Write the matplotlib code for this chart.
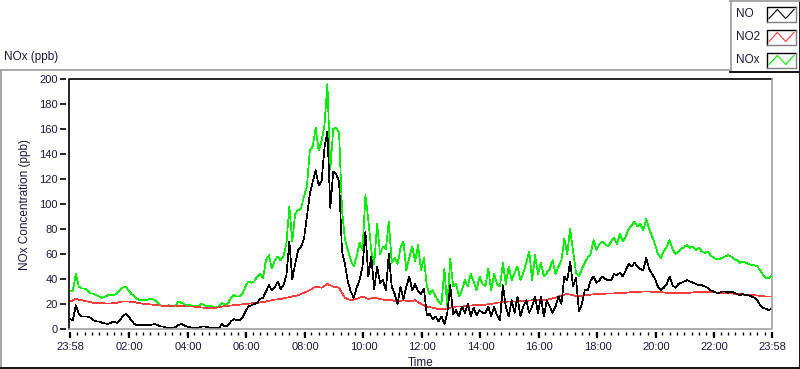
import numpy as np
import matplotlib
matplotlib.use("Agg")
import matplotlib.pyplot as plt

plt.rcParams['font.family'] = ['Liberation Sans', 'DejaVu Sans']

# ---------------- data (minutes after 23:58) ----------------
step_no = 6      # NO / NOx sampling step (min)
step_no2 = 12    # NO2 sampling step (min)

no_vals = [
    8, 7, 19, 12, 10, 10, 10, 9, 7, 6,
    6, 5, 4.5, 4, 5, 6, 5, 7, 10, 12,
    10, 7, 4, 3, 3, 3, 3, 3, 3.5, 4,
    3, 2, 2, 1, 1, 1, 1.5, 3, 4, 3,
    2, 1.5, 1, 1, 1, 2, 2, 1.5, 1, 1,
    1, 1, 4, 2, 3, 6, 8, 7, 7, 9,
    14, 18, 19, 20, 21, 24, 25, 30, 35, 31,
    33, 38, 32, 35, 43, 70, 40, 52, 63, 66,
    72, 90, 108, 118, 127, 115, 118, 145, 158, 97,
    126, 124, 118, 62, 52, 38, 30, 25, 33, 39,
    50, 78, 42, 58, 32, 50, 37, 39, 31, 60,
    34, 28, 20, 34, 24, 34, 42, 31, 36, 30,
    28, 32, 11, 12, 8, 10, 6, 10, 4, 13,
    35, 12, 15, 10, 18, 13, 20, 10, 17, 11,
    15, 13, 13, 18, 10, 18, 11, 7, 35, 18,
    10, 23, 13, 26, 10, 18, 23, 13, 18, 26,
    13, 26, 10, 23, 18, 13, 18, 26, 20, 42,
    39, 54, 34, 41, 14, 20, 31, 31, 39, 42,
    37, 39, 42, 40, 39, 39, 44, 43, 45, 42,
    47, 52, 50, 53, 50, 48, 47, 57, 48, 44,
    40, 34, 31, 33, 36, 42, 35, 33, 36, 37,
    38, 39, 38, 37, 36, 35, 35, 34, 33, 31,
    30, 29, 29, 30, 30, 29, 30, 29, 28, 27,
    28, 27, 27, 26, 25, 23, 19, 17, 16, 15, 17,
]

nox_vals = [
    30, 31, 44, 34, 32.5, 32.5, 31, 28.5, 28.5, 27,
    26, 25, 26, 27, 27, 27, 28.5, 31, 33, 34,
    31, 28, 26, 24, 23, 23, 23, 24, 24, 23,
    21, 19, 18, 18.5, 19, 18.5, 18, 22, 21, 20,
    19, 19, 18.5, 18.5, 18.5, 20, 19, 18, 18.5, 17.5,
    17, 18.5, 21, 19, 20.5, 24.5, 27, 26, 26, 28.5,
    34, 38, 37, 38, 42, 44.5, 40.5, 55, 59, 48.5,
    55, 58, 55, 58, 68.5, 98, 70, 92.5, 95, 96.5,
    106, 114, 143, 146, 161, 143, 150, 163, 196, 128,
    160, 161, 157, 95, 72, 63, 55, 50, 58, 69,
    63, 107, 87, 63, 52, 84, 60, 66, 64, 86,
    53, 57, 52, 65, 70, 47, 57, 66, 54, 67,
    47, 57, 34, 28, 31, 26, 22, 20, 48, 18,
    56, 34, 36, 26, 31, 39, 34, 44, 38, 31,
    42, 36, 34, 48, 31, 44, 36, 34, 53, 36,
    50, 39, 45, 50, 39, 45, 53, 62, 39, 59,
    44, 53, 42, 45, 48, 55, 44, 50, 55, 72,
    60, 80, 62, 45, 42, 48, 53, 57, 60, 71,
    63, 68, 70, 68, 66, 70, 73, 68, 76, 70,
    74, 80, 83, 86, 82, 84, 79, 88, 80, 74,
    68, 60, 57, 62, 66, 71, 64, 60, 62, 64,
    66, 67, 65, 66, 63, 65, 62, 61, 62, 59,
    57, 56, 56, 57, 58, 59, 58, 56, 55, 53,
    54, 53, 52, 51, 51, 50, 47, 43, 41, 41, 43,
]

no2_vals = [
    22, 24, 23, 22, 21, 21, 20.5, 20.5, 21, 22,
    22, 21.5, 20.5, 20, 19.5, 19, 18.5, 18.5, 18.7, 18.5,
    18, 18, 17.5, 17, 16.5, 17, 18, 18.5, 19, 19.5,
    20, 20.5, 21, 21.5, 22.5, 23.5, 24, 25, 26, 27,
    29, 31, 34, 33, 36, 34, 33, 25, 23, 24,
    26, 24, 25, 24, 23, 23, 22, 23, 22, 23,
    20, 18, 17, 16, 16, 17, 18, 18, 18.5, 19,
    19, 19.5, 20, 21, 21.5, 22, 22, 22.5, 22.5, 23,
    23, 23, 24, 25, 27, 28, 27, 26, 27, 27.5,
    28, 28, 28.5, 28.5, 29, 29, 29.5, 29.5, 30, 30,
    29.5, 29.5, 29, 29, 29, 29, 29, 29.5, 29.5, 29.5,
    29.5, 29, 29, 28.5, 28, 27.5, 27, 27, 26.5, 26, 26,
]

x_tick_pos = [0, 122, 242, 362, 482, 602, 722, 842, 962, 1082, 1202, 1322, 1440]
x_tick_labels = ["23:58", "02:00", "04:00", "06:00", "08:00", "10:00", "12:00",
                 "14:00", "16:00", "18:00", "20:00", "22:00", "23:58"]
y_ticks = list(range(0, 201, 20))

series_names = ["NO", "NO2", "NOx"]
series_colors = ["#000000", "#ff3c3c", "#00ee00"]

t_no = np.arange(len(no_vals)) * step_no
t_no2 = np.arange(len(no2_vals)) * step_no2

# ---------------- figure ----------------
W, H = 800, 369
fig = plt.figure(figsize=(W / 100, H / 100), dpi=100)
fig.patch.set_facecolor("white")

def fx(x):
    return x / W

def fy(y):
    return 1 - y / H

left, right, top, bottom = 69, 772, 79, 329
ax = fig.add_axes([fx(left), fy(bottom), (right - left) / W, (bottom - top) / H])

ax.plot(t_no, nox_vals, color=series_colors[2], lw=0.5, antialiased=False)
ax.plot(t_no2, no2_vals, color=series_colors[1], lw=0.5, antialiased=False)
ax.plot(t_no, no_vals, color=series_colors[0], lw=0.5, antialiased=False)

ax.set_xlim(-2, 1440)
ax.set_ylim(0, 200)

for s in ax.spines.values():
    s.set_color("none")
ax.spines["left"].set_position(("outward", 2))
ax.spines["bottom"].set_position(("outward", 2))

# plot frame: dark top/left, light right/bottom
ax.plot([0, 0, 1], [0, 1, 1], transform=ax.transAxes, color="black", lw=1.2, clip_on=False)
ax.plot([0, 1, 1], [0, 0, 1], transform=ax.transAxes, color="#a0a0a0", lw=1.2, clip_on=False)

tc = "#1a1a38"
ax.set_yticks(y_ticks)
ax.set_yticklabels([str(v) for v in y_ticks])
ax.set_xticks(x_tick_pos)
ax.set_xticklabels(x_tick_labels)
ax.set_xticks(np.arange(15, 1440, 15), minor=True)
ax.tick_params(axis="y", which="major", direction="out", length=4.5, width=1.2,
               color="black", labelsize=8, labelcolor=tc, pad=1.5)
ax.tick_params(axis="x", which="major", direction="out", length=4.5, width=1.6,
               color="black", labelsize=8, labelcolor=tc, pad=2.5)
ax.tick_params(axis="x", which="minor", direction="out", length=2.5, width=1.0,
               color="black")

ax.set_xlabel("Time", fontsize=8.5, color=tc, labelpad=4)
ax.set_ylabel("NOx Concentration (ppb)", fontsize=8.5, color=tc, labelpad=6)

# ---------------- overlay: outer frames, title, legend ----------------
ov = fig.add_axes([0, 0, 1, 1], zorder=5)
ov.set_xlim(0, W)
ov.set_ylim(H, 0)
ov.axis("off")
ov.patch.set_alpha(0)

gray = "#a0a0a0"
ov.plot([0.5, 0.5], [70, 367], color=gray, lw=1.3)
ov.plot([0, 730], [70, 70], color=gray, lw=1.3)
ov.plot([0, 800], [367.5, 367.5], color="black", lw=1.3)
ov.plot([799.5, 799.5], [0, 368], color="black", lw=1.3)
# legend box
ov.plot([730.5, 730.5], [0, 72], color=gray, lw=1.3)
ov.plot([730, 800], [0.5, 0.5], color=gray, lw=1.3)
ov.plot([730, 800], [72, 72], color="black", lw=1.3)

ov.text(4, 57, "NOx (ppb)", fontsize=8.5, color=tc, va="center", ha="left")

for k, (name, col) in enumerate(zip(series_names, series_colors)):
    yc = 14 + 23 * k
    ov.text(736, yc, name, fontsize=8.5, color=tc, va="center", ha="left")
    bx0, bx1, by0, by1 = 767, 796, yc - 7.5, yc + 7.5
    ov.plot([bx0, bx0, bx1], [by1, by0, by0], color="black", lw=1.0)
    ov.plot([bx0, bx1, bx1], [by1, by1, by0], color="#808080", lw=1.0)
    zx = np.linspace(bx0 + 2, bx1 - 2, 4)
    zy = [by1 - 3, by0 + 3, by1 - 3, by0 + 3]
    ov.plot(zx, zy, color=col, lw=0.8)

fig.savefig("out.png", dpi=100, facecolor="white")
